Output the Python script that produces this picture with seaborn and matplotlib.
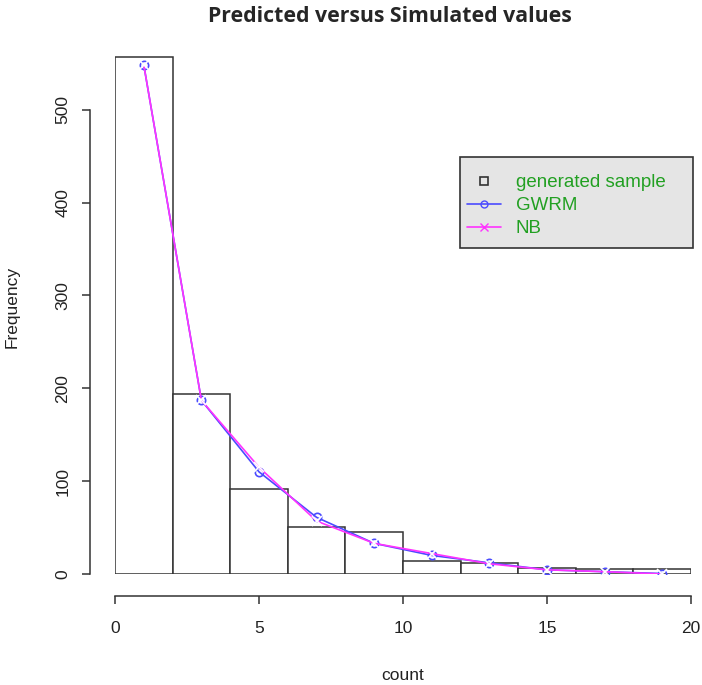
import numpy as np
import matplotlib
matplotlib.use('Agg')
import matplotlib.pyplot as plt
from matplotlib.lines import Line2D
from matplotlib.patches import Rectangle
import seaborn as sns

# histogram bins (width 2) and simulated counts
bin_edges = [0, 2, 4, 6, 8, 10, 12, 14, 16, 18, 20]
sample_counts = [557, 194, 92, 51, 45, 14, 12, 6, 5, 5]
# predicted frequencies at bin mid-points
mids = [1, 3, 5, 7, 9, 11, 13, 15, 17, 19]
gwrm = [548, 187, 110, 61, 33, 20, 12, 4.5, 2.5, 0.5]
nb = [548, 187, 115, 57, 33, 22, 11, 4.5, 2.5, 0]

sns.set_style('white')
plt.rcParams['font.family'] = ['Liberation Sans', 'DejaVu Sans']

fig = plt.figure(figsize=(7.02, 6.85), dpi=100)
W, H = 702, 685
ax = fig.add_axes([115 / W, (H - 574) / H, 576 / W, 534 / H])

sns.histplot(x=mids, weights=sample_counts, bins=bin_edges, ax=ax,
             color='white', edgecolor='#333333', linewidth=1.1, alpha=1)
sns.lineplot(x=mids, y=gwrm, ax=ax, color='#4b4bff', marker='o',
             markersize=6, markerfacecolor='none', markeredgecolor='#4b4bff',
             markeredgewidth=1.2, linewidth=1.2)
sns.lineplot(x=mids, y=nb, ax=ax, color='#ff33ff', marker='x',
             markersize=7, markeredgewidth=1.2, linewidth=1.2)

ax.set_xlim(0, 20)
ax.set_ylim(0, 575)
ax.set_xticks([0, 5, 10, 15, 20])
ax.set_yticks([0, 100, 200, 300, 400, 500])
for s in ['top', 'right']:
    ax.spines[s].set_visible(False)
ax.spines['bottom'].set_position(('outward', 16))
ax.spines['left'].set_position(('outward', 18))
ax.spines['bottom'].set_bounds(0, 20)
ax.spines['left'].set_bounds(0, 500)
for s in ['bottom', 'left']:
    ax.spines[s].set_color('#333333')
    ax.spines[s].set_linewidth(1.1)
ax.tick_params(axis='both', direction='out', length=6, width=1.1,
               color='#333333', labelsize=12.5, labelcolor='#222222',
               bottom=True, left=True)
ax.tick_params(axis='x', pad=12)
ax.tick_params(axis='y', pad=8)
for lab in ax.get_yticklabels():
    lab.set_rotation(90)
    lab.set_va('center')

ax.set_xlabel('count', fontsize=12.5, labelpad=23, color='#222222')
ax.set_ylabel('Frequency', fontsize=12.5, labelpad=26, color='#222222')
fig.text(390 / W, 1 - 17 / H, 'Predicted versus Simulated values',
         fontsize=15.3, fontweight='bold', ha='center', va='center',
         family=['Open Sans', 'DejaVu Sans'])

# legend box drawn by hand so its padding matches the R legend
fig.patches.append(Rectangle((460 / W, 1 - 248 / H), 233 / W, 91 / H,
                             transform=fig.transFigure, facecolor='#e5e5e5',
                             edgecolor='#333333', linewidth=1.2, zorder=1))
handles = [
    Line2D([], [], linestyle='none', marker='s', markersize=6,
           markerfacecolor='none', markeredgecolor='#333333', markeredgewidth=1.2),
    Line2D([], [], color='#4b4bff', marker='o', markersize=5,
           markerfacecolor='none', linewidth=1.2),
    Line2D([], [], color='#ff33ff', marker='x', markersize=6, linewidth=1.2),
]
leg = fig.legend(handles, ['generated sample', 'GWRM', 'NB'],
                 loc='upper left', bbox_to_anchor=(467 / W, 1 - 174 / H),
                 frameon=False, fontsize=13.5,
                 handlelength=1.8, labelspacing=0.32, borderpad=0,
                 borderaxespad=0, handletextpad=0.8)
for t in leg.get_texts():
    t.set_color('#22a022')

fig.savefig('out.png', dpi=100)
